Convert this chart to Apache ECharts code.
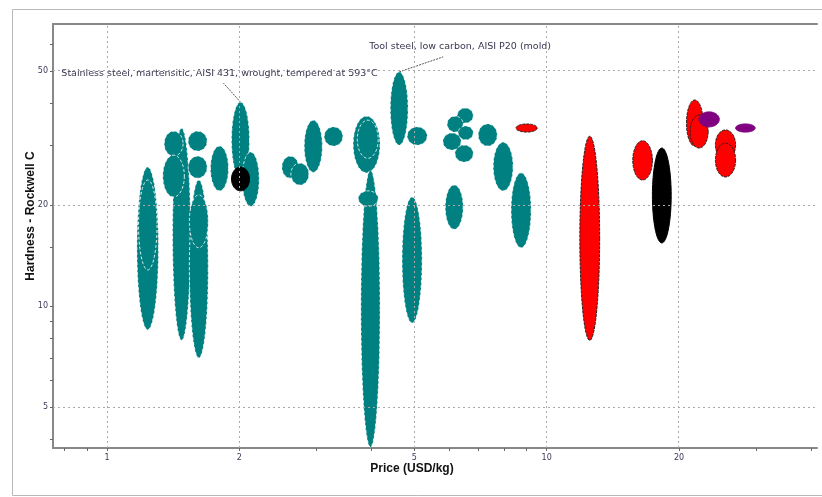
<!DOCTYPE html>
<html><head><meta charset="utf-8">
<script src="https://cdn.jsdelivr.net/npm/echarts@6/dist/echarts.min.js"></script>
<style>html,body{margin:0;padding:0;background:#fff}#c{width:822px;height:497px}</style>
</head><body><div id="c"></div>
<script>
// Each item: [priceLow, priceHigh, hardnessLow, hardnessHigh]  (USD/kg, Rockwell C)
const tealItems = [
  [1.17,1.31,8.5,25.9],[1.18,1.30,12.8,23.7],[1.41,1.55,7.9,33.8],[1.35,1.49,27.9,33.1],
  [1.34,1.50,21.1,28.1],[1.53,1.69,28.9,33.1],[1.53,1.69,24.0,27.9],[1.54,1.70,7.0,23.7],
  [1.54,1.70,14.9,21.4],[1.72,1.89,22.0,29.9],[1.92,2.11,24.0,40.4],[2.03,2.22,19.8,28.7],
  [2.50,2.73,24.0,27.9],[2.62,2.88,22.9,26.6],[2.81,3.09,25.0,35.7],[3.12,3.44,29.9,34.1],
  [3.63,4.18,24.9,36.7],[3.71,4.14,27.5,35.7],[3.78,4.18,3.8,25.4],[3.73,4.14,19.8,22.0],
  [4.41,4.84,30.1,49.7],[4.82,5.35,30.1,34.1],[4.69,5.21,8.9,21.1],[6.26,6.81,35.0,38.8],
  [5.94,6.46,32.9,36.7],[6.29,6.81,31.2,34.3],[5.81,6.39,29.1,32.7],[6.19,6.81,26.8,30.1],
  [6.99,7.72,29.9,34.8],[7.56,8.39,22.0,30.7],[5.88,6.46,16.9,22.9],[8.30,9.22,14.9,24.9]
];
const redItems = [
  [8.52,9.52,32.9,34.8],[11.9,13.2,7.9,32.0],[15.7,17.4,23.7,31.0],[20.8,22.7,29.9,41.0],
  [21.2,23.3,29.5,37.0],[24.2,26.9,27.2,33.4],[24.2,26.9,24.2,30.5]
];
const blackItems = [[1.92,2.11,22.0,25.9],[17.4,19.2,15.4,29.5]];
const purpleItems = [[22.2,24.7,34.1,37.8],[26.9,29.8,32.9,34.8]];

const xTickLabels = [1,2,5,10,20];
const yTickLabels = [5,10,20,50];
const xMinorTicks = [0.8,0.9,3,4,6,7,8,9,30,40];
const yMinorTicks = [4,6,7,8,9,15,30,40,60];
const xGridValues = [1,2,5,10,20];
const yGridValues = [5,20,50];
const xRange = [0.754, 41.2];
const yRange = [3.78, 69.0];

// annotations: teal item index -> label text
const annotations = {
  10: {text:'Stainless steel, martensitic, AISI 431, wrought, tempered at 593\u00b0C', line:[-17,-19], textAt:[-21,-29]},
  20: {text:'Tool steel, low carbon, AISI P20 (mold)', line:[44,-15], textAt:[61,-25]}
};

const L = Math.log10;
const toLog = arr => arr.map(r => [L(r[0]), L(r[1]), L(r[2]), L(r[3])]);

function makeRender(fill, stroke, dash, annos) {
  return function (params, api) {
    const x0 = api.value(0), x1 = api.value(1), y0 = api.value(2), y1 = api.value(3);
    const pA = api.coord([x0, (y0 + y1) / 2]), pB = api.coord([x1, (y0 + y1) / 2]);
    const pC = api.coord([(x0 + x1) / 2, y0]), pD = api.coord([(x0 + x1) / 2, y1]);
    const cx = (pA[0] + pB[0]) / 2, cy = (pC[1] + pD[1]) / 2;
    const rx = Math.abs(pB[0] - pA[0]) / 2, ry = Math.abs(pC[1] - pD[1]) / 2;
    const pts = [];
    for (let i = 0; i < 80; i++) {
      const t = i / 80 * Math.PI * 2;
      pts.push([cx + rx * Math.cos(t), cy + ry * Math.sin(t)]);
    }
    const children = [{
      type: 'polygon', shape: {points: pts},
      style: {fill: fill, stroke: stroke, lineWidth: 1, lineDash: dash}
    }];
    const a = annos && annos[params.dataIndex];
    if (a) {
      const top = [cx, cy - ry];
      children.push({type: 'line', shape: {x1: top[0], y1: top[1], x2: top[0] + a.line[0], y2: top[1] + a.line[1]},
        style: {stroke: '#555', lineWidth: 1, lineDash: [2, 1]}});
      children.push({type: 'text', x: top[0] + a.textAt[0], y: top[1] + a.textAt[1],
        style: {text: a.text, fill: '#3a3550', font: '9.5px "DejaVu Sans", sans-serif', align: 'center', verticalAlign: 'middle'}});
    }
    return {type: 'group', children: children};
  };
}

const fmt = v => { const n = Math.pow(10, v); return String(Math.round(n * 10) / 10); };
const labelStyle = {color: '#3a3a5a', fontSize: 8, fontFamily: '"DejaVu Sans", sans-serif'};

const chart = echarts.init(document.getElementById('c'), null, {renderer: 'canvas'});
chart.setOption({
  animation: false,
  backgroundColor: '#fff',
  grid: {left: 53, right: 5, top: 24, bottom: 49},
  graphic: [
    {type: 'rect', left: 10, top: 7, shape: {width: 830, height: 486}, style: {fill: 'none', stroke: '#b8b8b8', lineWidth: 1}, z: -1},
    {type: 'text', x: 31, y: 216, rotation: Math.PI / 2, style: {text: 'Hardness - Rockwell C', fill: '#111', font: 'bold 12px "Liberation Sans", Arial, sans-serif', align: 'center', verticalAlign: 'middle'}},
    {type: 'text', x: 412, y: 469, style: {text: 'Price (USD/kg)', fill: '#111', font: 'bold 12px "Liberation Sans", Arial, sans-serif', align: 'center', verticalAlign: 'middle'}}
  ],
  xAxis: [{
    type: 'value', min: L(xRange[0]), max: L(xRange[1]),
    axisLine: {show: true, onZero: false, lineStyle: {color: '#888', width: 2}},
    axisTick: {show: true, inside: false, length: 3, lineStyle: {color: '#666'}, customValues: xTickLabels.concat(xMinorTicks).map(L)},
    axisLabel: Object.assign({show: true, margin: 6, formatter: fmt, customValues: xTickLabels.map(L)}, labelStyle),
    splitLine: {show: false}
  }, {
    type: 'value', position: 'top', min: L(xRange[0]), max: L(xRange[1]),
    axisLine: {show: true, onZero: false, lineStyle: {color: '#888', width: 2}},
    axisTick: {show: false}, axisLabel: {show: false}, splitLine: {show: false}
  }],
  yAxis: {
    type: 'value', min: L(yRange[0]), max: L(yRange[1]),
    axisLine: {show: true, onZero: false, lineStyle: {color: '#888', width: 2}},
    axisTick: {show: true, inside: false, length: 3, lineStyle: {color: '#666'}, customValues: yTickLabels.concat(yMinorTicks).map(L)},
    axisLabel: Object.assign({show: true, margin: 5, formatter: fmt, customValues: yTickLabels.map(L)}, labelStyle),
    splitLine: {show: false}
  },
  series: [
    {type: 'line', data: [], silent: true, z: 1,
      markLine: {silent: true, symbol: 'none', label: {show: false}, animation: false,
        lineStyle: {color: '#aaa', type: [2, 3], width: 1},
        data: xGridValues.map(v => ({xAxis: L(v)})).concat(yGridValues.map(v => ({yAxis: L(v)})))}},
    {type: 'custom', z: 2, renderItem: makeRender('#008080', 'rgba(255,255,255,0.85)', [3, 2], annotations), data: toLog(tealItems), clip: true},
    {type: 'custom', z: 3, renderItem: makeRender('#ff0000', '#222', [3, 1], null), data: toLog(redItems), clip: true},
    {type: 'custom', z: 4, renderItem: makeRender('#000000', '#000', null, null), data: toLog(blackItems), clip: true},
    {type: 'custom', z: 5, renderItem: makeRender('#800080', '#800080', null, null), data: toLog(purpleItems), clip: true}
  ]
});
</script>
</body></html>
